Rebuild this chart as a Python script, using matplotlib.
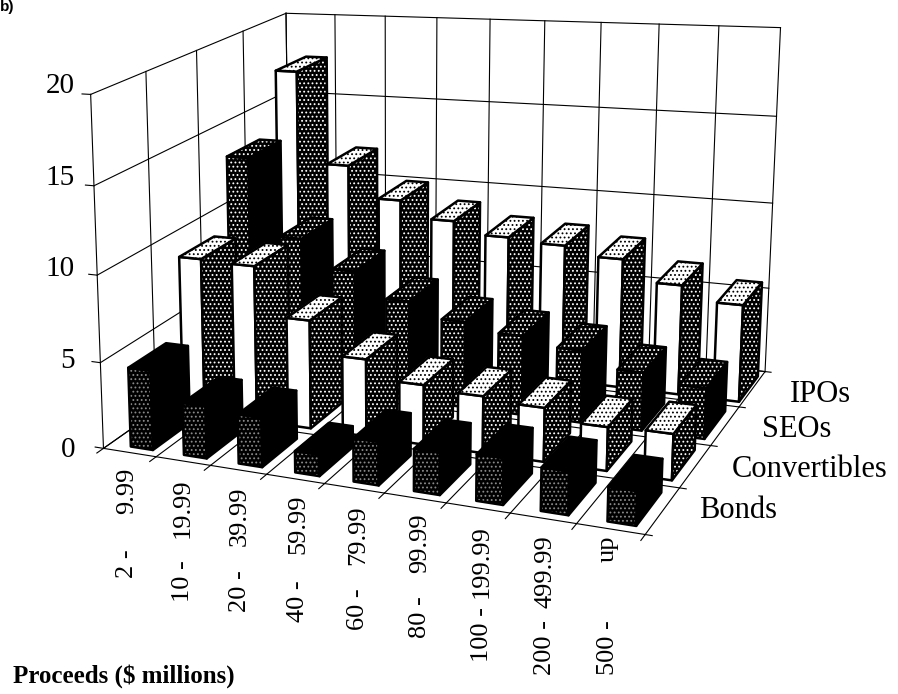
import matplotlib
matplotlib.use("Agg")
import matplotlib.pyplot as plt
import numpy as np
from mpl_toolkits.mplot3d.art3d import Poly3DCollection

# Proceeds size classes, labelled along the front edge (lower bound, upper bound)
class_low = ["2 -", "10 -", "20 -", "40 -", "60 -", "80 -", "100 -", "200 -", "500 -"]
class_high = ["9.99", "19.99", "39.99", "59.99", "79.99", "99.99", "199.99", "499.99", "up"]
series = ["Bonds", "Convertibles", "SEOs", "IPOs"]
bonds = [4.6, 3.0, 2.8, 1.2, 2.4, 2.3, 2.5, 2.3, 1.8]
convertibles = [9.2, 9.1, 6.3, 4.45, 3.4, 3.2, 3.0, 2.4, 2.5]
seos = [13.6, 9.0, 7.35, 5.9, 5.05, 4.6, 4.15, 3.3, 2.85]
ipos = [17.5, 11.9, 10.0, 9.0, 8.3, 8.1, 7.6, 6.4, 5.6]
z_ticks = [0, 5, 10, 15, 20]

plt.rcParams["font.family"] = ["Liberation Serif", "DejaVu Serif"]
plt.rcParams["hatch.linewidth"] = 0.8
W, H = 898, 694
fig = plt.figure(figsize=(W / 100, H / 100), dpi=100, facecolor="white")

# Off-axis camera: the axes box is far larger than the figure so the optical
# centre of the projection can sit to the left of the visible plot.
S = 2400
cx, cy = -247, 269
ax = fig.add_axes([(cx - S / 2) / W, (H - cy - S / 2) / H, S / W, S / H],
                  projection="3d", computed_zorder=False)
nx, ny = len(class_low), len(series)
ax.set_xlim(-4.83 - 18.62, -4.83 + 18.62)
ax.set_ylim(-1.089 - 8.94, -1.089 + 8.94)
ax.set_zlim(12.61 - 59.52, 12.61 + 59.52)
ax.set_box_aspect((1, 1, 1), zoom=1.5023)
ax.set_proj_type("persp", focal_length=0.1653)
ax.view_init(elev=14.4, azim=-53.9, roll=4.2)
ax.set_axis_off()

# Frame: back wall, left wall and floor grid
line = dict(color="black", lw=0.8, zorder=1)
for x in range(nx + 1):
    ax.plot([x, x], [ny, ny], [0, 20], **line)
    ax.plot([x, x], [0, ny], [0, 0], **line)
    ax.plot([x, x], [0, -0.12], [0, 0], **line)
for y in range(ny + 1):
    ax.plot([0, 0], [y, y], [0, 20], **line)
    ax.plot([0, nx], [y, y], [0, 0], **line)
    ax.plot([nx, nx + 0.1], [y, y], [0, 0], **line)
for z in z_ticks:
    ax.plot([0, nx], [ny, ny], [z, z], **line)
    ax.plot([0, 0], [0, ny], [z, z], **line)
    ax.plot([0, -0.16], [0, 0], [z, z], **line)

# (front, side, top) fill: colour, hatch colour, hatch
DOT_DARK = ("black", "white", "....")
DOT_FAINT = ("black", "#8a8a8a", "....")
DOT_LIGHT = ("white", "black", "....")
SOLID = ("black", "black", None)
BLANK = ("white", "white", None)
styles = [
    (DOT_FAINT, SOLID, SOLID),
    (BLANK, DOT_DARK, DOT_LIGHT),
    (DOT_DARK, SOLID, DOT_DARK),
    (BLANK, DOT_DARK, DOT_LIGHT),
]
table = [bonds, convertibles, seos, ipos]
BW, BD = 0.42, 0.72
row_shift = [0.08, 0.10, 0.12, 0.22]
CLEAR = (0, 0, 0, 0)


def add_face(verts, style, order):
    face, hcol, hatch = style
    fill = Poly3DCollection([verts], facecolor=face, edgecolor=hcol, linewidths=0, hatch=hatch, zorder=order)
    ax.add_collection3d(fill)
    outline = Poly3DCollection([verts], facecolor=CLEAR, edgecolor="black", linewidths=1.8, zorder=order + 0.1)
    ax.add_collection3d(outline)


# Painter's order: rear rows first, left to right inside each row
for j in range(ny - 1, -1, -1):
    for i in range(nx):
        h = table[j][i]
        x0, x1 = i + 0.5 + row_shift[j] - BW / 2, i + 0.5 + row_shift[j] + BW / 2
        y0, y1 = j + 0.5 - BD / 2, j + 0.5 + BD / 2
        base = 10 + (ny - j) * 100 + i * 2
        add_face([(x0, y0, 0), (x1, y0, 0), (x1, y0, h), (x0, y0, h)], styles[j][0], base)
        add_face([(x1, y0, 0), (x1, y1, 0), (x1, y1, h), (x1, y0, h)], styles[j][1], base + 0.3)
        add_face([(x0, y0, h), (x1, y0, h), (x1, y1, h), (x0, y1, h)], styles[j][2], base + 0.6)


def place(x, y, s, **kw):
    fig.text(x / W, 1 - y / H, s, **kw)


for z, y in zip(z_ticks, [450, 361, 269, 178, 86]):
    place(75, y, str(z), fontsize=21, ha="right", va="center")

# Each class label is set in two pieces: upper bound nearest the axis, lower bound below it
cat_x = [127, 183, 240, 298, 358, 420, 482, 545, 608]
high_top = [468, 478, 487, 495, 505, 513, 525, 535, 535]
low_bottom = [578, 602, 612, 622, 630, 638, 662, 675, 675]
for lo, hi, x, t, b in zip(class_low, class_high, cat_x, high_top, low_bottom):
    place(x, t, hi, fontsize=19, rotation=90, ha="center", va="top")
    place(x, b, lo, fontsize=19, rotation=90, ha="center", va="bottom")

ser_pos = [(699, 518), (732, 477), (762, 437), (790, 402)]
for s, (x, y) in zip(series, ser_pos):
    place(x, y, s, fontsize=22, ha="left", va="baseline")
place(13, 683, "Proceeds ($ millions)", fontsize=18, fontweight="bold", ha="left", va="baseline")
place(0, 7, "b)", fontsize=11, fontweight="bold", family="Liberation Sans", ha="left", va="center")

fig.savefig("out.png", dpi=100)
